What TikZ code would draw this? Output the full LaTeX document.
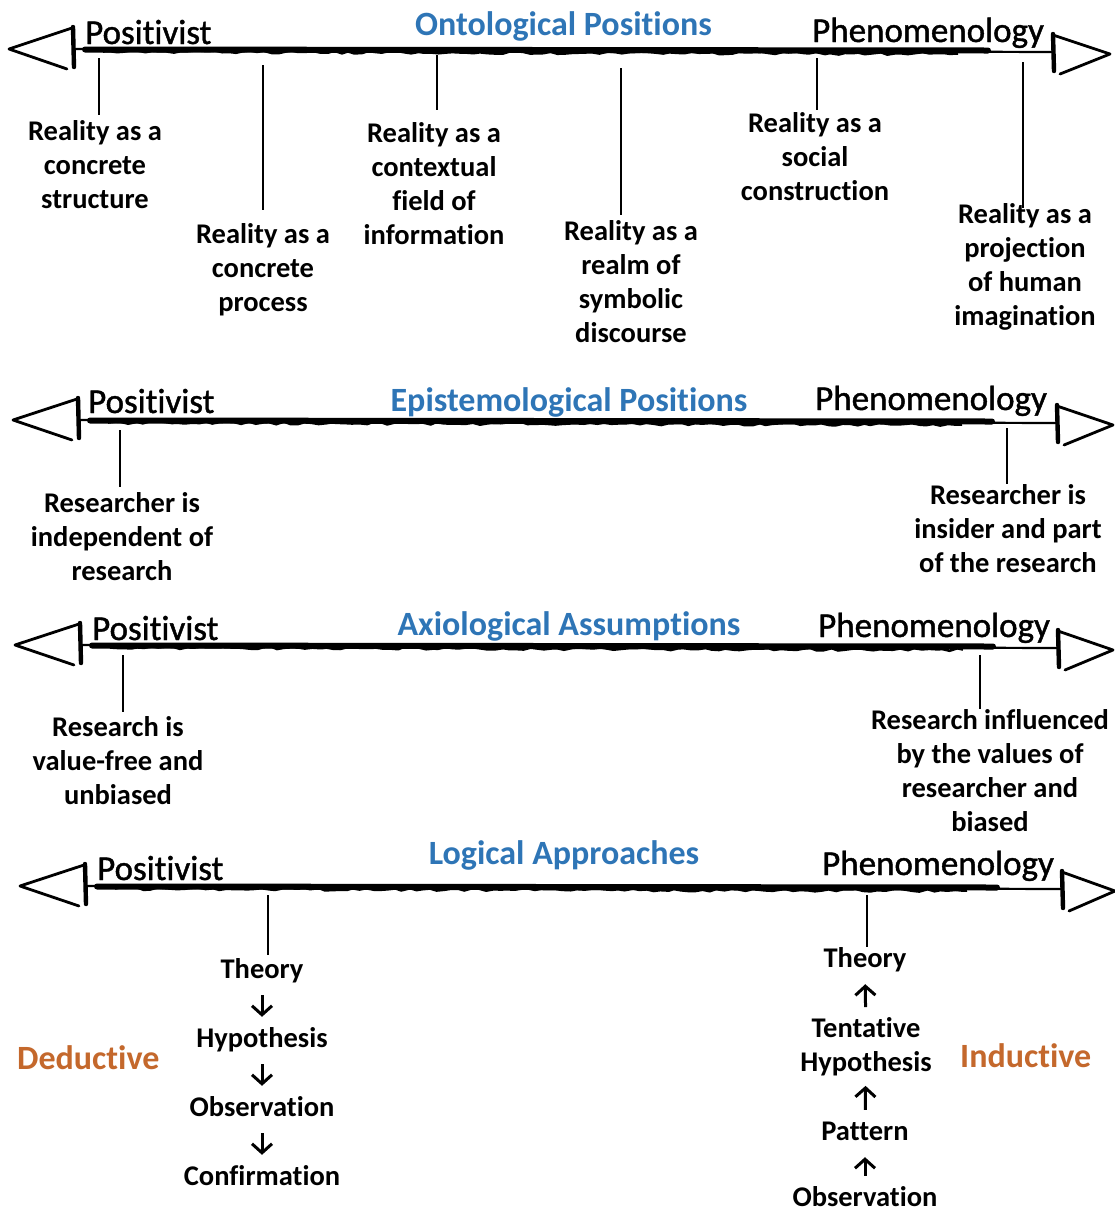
\documentclass[tikz,border=0pt]{standalone}
\usepackage{fontspec}
\setmainfont{Carlito}[Ligatures=NoCommon]
\newfontfamily\polefont{Carlito}[Ligatures=NoCommon, FakeBold=1.2]
\usetikzlibrary{arrows.meta,calc,decorations.pathmorphing}
\definecolor{titleblue}{RGB}{46,117,182}
\definecolor{approach}{RGB}{196,104,44}

% A hand-drawn double-headed axis.
% #1 name, #2 y of the line, #3 left tip x, #4 left bar x, #5 right bar x, #6 right tip x
\newcommand\sketchaxis[6]{%
  \coordinate (#1-l) at (#4,#2);
  \coordinate (#1-r) at (#5,{#2+3});
  \draw[axisthin] (#1-l) -- (#1-r);
  \draw[axisthick] ($(#1-l)+(12,0.5)$) -- ($(#1-r)+(-65,-1.5)$);
  \draw[axisrough] ($(#1-l)+(30,2.5)$) -- ($(#1-r)+(-95,1.5)$);
  % left head
  \draw[headarm] ({#4-1},{#2-21}) -- (#3,#2) -- ({#4-6},{#2+20});
  \draw[headbar] (#4,{#2-22}) -- ({#4+1},{#2+18});
  % right head
  \draw[headarm] (#5,{#2-14}) -- (#6,{#2+5}) -- ({#5+7},{#2+25});
  \draw[headbar] (#5,{#2-15}) -- ({#5+1},{#2+22});
}

\begin{document}
\begin{tikzpicture}[x=1pt,y=-1pt,
  axisthin/.style={line width=2.2pt, line cap=round},
  axisthick/.style={line width=6pt, line cap=round},
  axisrough/.style={line width=2.6pt, decorate,
    decoration={random steps, segment length=7pt, amplitude=1.3pt}},
  headarm/.style={line width=2.8pt, line cap=round, line join=round},
  headbar/.style={line width=4.4pt, line cap=round},
  tick/.style={line width=2.3pt},
  lbl/.style={font=\bfseries\fontsize{28.5}{34}\selectfont, align=center,
    inner sep=0pt, anchor=north},
  step node/.style={font=\bfseries\fontsize{28.5}{34}\selectfont,
    inner sep=0pt, anchor=base, text height=20pt, text depth=7pt},
  flow/.style={line width=3pt, -{Straight Barb[length=9pt,width=20pt,line width=3pt]},
    shorten <=10pt, shorten >=10pt},
  title/.style={font=\bfseries\fontsize{34}{40}\selectfont, text=titleblue,
    inner sep=0pt, anchor=base},
  pole/.style={font=\polefont\fontsize{35}{42}\selectfont, inner sep=0pt, anchor=base west},
  approachlbl/.style={font=\bfseries\fontsize{34}{40}\selectfont, text=approach,
    inner sep=0pt, anchor=base west}]

\useasboundingbox (0,0) rectangle (1115,1211);
\pgfmathsetseed{7}

% ---------- Ontological positions ----------
\sketchaxis{ont}{49}{9}{73}{1053}{1110}
\node[pole] (ontP) at (85,44) {Positivist};
\node[pole] (ontF) at (812,42) {Phenomenology};
\node[title] (ontT) at (563.5,35) {Ontological Positions};

\node[lbl] (o1) at (95,120) {Reality as a\\concrete\\structure};
\node[lbl] (o2) at (263,223) {Reality as a\\concrete\\process};
\node[lbl] (o3) at (434,122) {Reality as a\\contextual\\field of\\information};
\node[lbl] (o4) at (631,220) {Reality as a\\realm of\\symbolic\\discourse};
\node[lbl] (o5) at (815,112) {Reality as a\\social\\construction};
\node[lbl] (o6) at (1025,203) {Reality as a\\projection\\of human\\imagination};

\coordinate (o1t) at (99,58);
\coordinate (o2t) at (263,65);
\coordinate (o3t) at (437,55);
\coordinate (o4t) at (621,68);
\coordinate (o5t) at (817,58);
\coordinate (o6t) at (1023,62);
\draw[tick, shorten >=5pt]  (o1t) -- (o1t |- o1.north);
\draw[tick, shorten >=13pt] (o2t) -- (o2t |- o2.north);
\draw[tick, shorten >=12pt] (o3t) -- (o3t |- o3.north);
\draw[tick, shorten >=5pt]  (o4t) -- (o4t |- o4.north);
\draw[tick, shorten >=2pt]  (o5t) -- (o5t |- o5.north);
\draw[tick, shorten >=-5pt] (o6t) -- (o6t |- o6.north);

% ---------- Epistemological positions ----------
\sketchaxis{epi}{420}{13}{78}{1057}{1113}
\node[pole] (epiP) at (88,413) {Positivist};
\node[pole] (epiF) at (815,410) {Phenomenology};
\node[title] (epiT) at (569,411) {Epistemological Positions};

\node[lbl] (e1) at (122,492) {Researcher is\\independent of\\research};
\node[lbl] (e2) at (1008,484) {Researcher is\\insider and part\\of the research};
\coordinate (e1t) at (120,430);
\coordinate (e2t) at (1007,428);
\draw[tick, shorten >=5pt] (e1t) -- (e1t |- e1.north);
\draw[tick] (e2t) -- (e2t |- e2.north);

% ---------- Axiological assumptions ----------
\sketchaxis{axi}{645}{15}{80}{1058}{1113}
\node[pole] (axiP) at (92,640) {Positivist};
\node[pole] (axiF) at (818,637) {Phenomenology};
\node[title] (axiT) at (569,635) {Axiological Assumptions};

\node[lbl] (a1) at (118,716) {Research is\\value-free and\\unbiased};
\node[lbl] (a2) at (990,709) {Research influenced\\by the values of\\researcher and\\biased};
\coordinate (a1t) at (123,655);
\coordinate (a2t) at (980,655);
\draw[tick, shorten >=4pt] (a1t) -- (a1t |- a1.north);
\draw[tick] (a2t) -- (a2t |- a2.north);

% ---------- Logical approaches ----------
\sketchaxis{log}{886}{20}{85}{1062}{1115}
\node[pole] (logP) at (97,880) {Positivist};
\node[pole] (logF) at (822,875) {Phenomenology};
\node[title] (logT) at (564,864) {Logical Approaches};

% deductive chain
\node[step node] (d1) at (262,978) {Theory};
\node[step node] (d2) at (262,1047) {Hypothesis};
\node[step node] (d3) at (262,1116) {Observation};
\node[step node] (d4) at (262,1185) {Confirmation};
\draw[flow] (d1) -- (d2);
\draw[flow] (d2) -- (d3);
\draw[flow] (d3) -- (d4);
\coordinate (dt) at (268,895);
\draw[tick, shorten >=3pt] (dt) -- (dt |- d1.north);
\node[approachlbl] (ded) at (17,1069) {Deductive};

% inductive chain
\node[step node] (i1) at (865,967) {Theory};
\node[lbl] (i2) at (866,1017) {Tentative\\Hypothesis};
\node[step node] (i3) at (865,1140) {Pattern};
\node[step node, text depth=0pt] (i4) at (865,1206) {Observation};
\draw[flow] (i4) -- (i3);
\draw[flow] (i3) -- (i2);
\draw[flow] (i2) -- (i1);
\coordinate (it) at (867,895);
\draw[tick] (it) -- (it |- i1.north);
\node[approachlbl] (ind) at (960,1067) {Inductive};

\end{tikzpicture}
\end{document}
